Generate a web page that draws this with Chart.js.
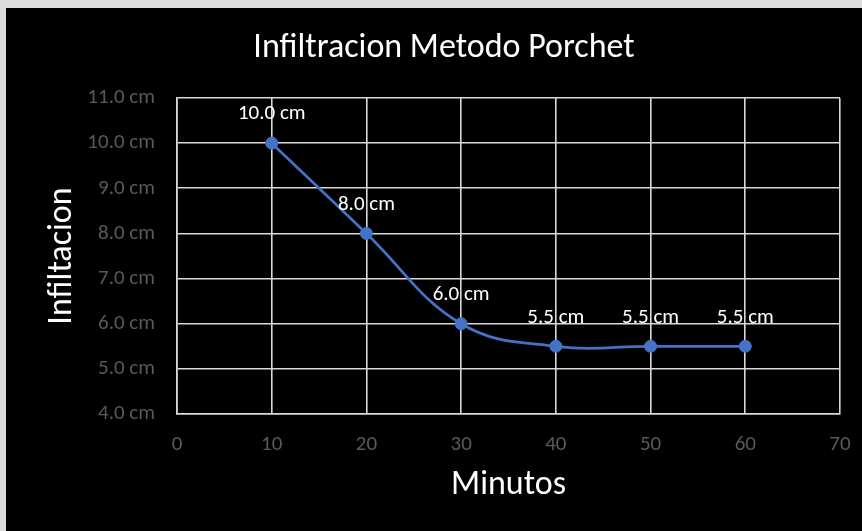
<!DOCTYPE html>
<html>
<head>
<meta charset="utf-8">
<script src="https://cdn.jsdelivr.net/npm/chart.js@4.4.1/dist/chart.umd.min.js"></script>
<style>
  html, body { margin: 0; padding: 0; background: #dcdcdc; }
  #frame { position: absolute; left: 6px; top: 8px; width: 856px; height: 523px; background: #000; }
</style>
</head>
<body>
<div id="frame"><canvas id="chart" width="856" height="523"></canvas></div>
<script>
const minutes = [10, 20, 30, 40, 50, 60];
const infiltration = [10.0, 8.0, 6.0, 5.5, 5.5, 5.5];
const chartTitle = 'Infiltracion Metodo Porchet';

const FONT = 'Carlito, Lato, sans-serif';
const gridColor = '#d9d9d9';
const tickColor = '#595959';
const lineColor = '#4472c4';

// value label above every point
const pointLabels = {
  id: 'pointLabels',
  afterDatasetsDraw(chart) {
    const ctx = chart.ctx;
    const meta = chart.getDatasetMeta(0);
    ctx.save();
    ctx.fillStyle = '#ffffff';
    ctx.font = '21px ' + FONT;
    ctx.textAlign = 'center';
    ctx.textBaseline = 'middle';
    meta.data.forEach((pt, i) => {
      ctx.fillText(infiltration[i].toFixed(1) + ' cm', pt.x, pt.y - 29);
    });
    ctx.restore();
  }
};

// title sits a little right of the canvas centre, so draw it by hand
const topTitle = {
  id: 'topTitle',
  afterDraw(chart) {
    const ctx = chart.ctx;
    ctx.save();
    ctx.fillStyle = '#ffffff';
    ctx.font = '34px ' + FONT;
    ctx.textAlign = 'center';
    ctx.textBaseline = 'middle';
    ctx.fillText(chartTitle, 438, 40);
    ctx.restore();
  }
};

new Chart(document.getElementById('chart'), {
  type: 'line',
  data: {
    datasets: [{
      data: minutes.map((m, i) => ({ x: m, y: infiltration[i] })),
      borderColor: lineColor,
      backgroundColor: lineColor,
      borderWidth: 2.75,
      pointRadius: 6,
      pointBorderWidth: 1,
      tension: 0.4
    }]
  },
  options: {
    responsive: false,
    animation: false,
    layout: { padding: { left: 0, right: 0, top: 90, bottom: 0 } },
    plugins: {
      legend: { display: false },
      tooltip: { enabled: false },
      title: { display: false }
    },
    scales: {
      x: {
        type: 'linear',
        min: 0,
        max: 70,
        ticks: { stepSize: 10, color: tickColor, padding: 18, font: { family: FONT, size: 21 } },
        grid: { color: gridColor, lineWidth: 1.6, drawTicks: false },
        border: { color: gridColor, width: 1.6 },
        title: {
          display: true,
          text: 'Minutos',
          color: '#ffffff',
          font: { family: FONT, size: 34 },
          padding: { top: 0, bottom: 25 }
        },
        afterFit(scale) {
          scale.height = 117;
          // tick padding would otherwise widen the right gutter
          scale.paddingRight = 22;
        }
      },
      y: {
        min: 4,
        max: 11,
        ticks: {
          stepSize: 1,
          color: tickColor,
          padding: 22,
          font: { family: FONT, size: 21 },
          callback: v => v.toFixed(1) + ' cm'
        },
        grid: { color: gridColor, lineWidth: 1.6, drawTicks: false },
        border: { color: gridColor, width: 1.6 },
        title: {
          display: true,
          text: 'Infiltacion',
          color: '#ffffff',
          font: { family: FONT, size: 34 },
          padding: { top: 36, bottom: 0 }
        },
        afterFit(scale) { scale.width = 171; }
      }
    }
  },
  plugins: [pointLabels, topTitle]
});
</script>
</body>
</html>
